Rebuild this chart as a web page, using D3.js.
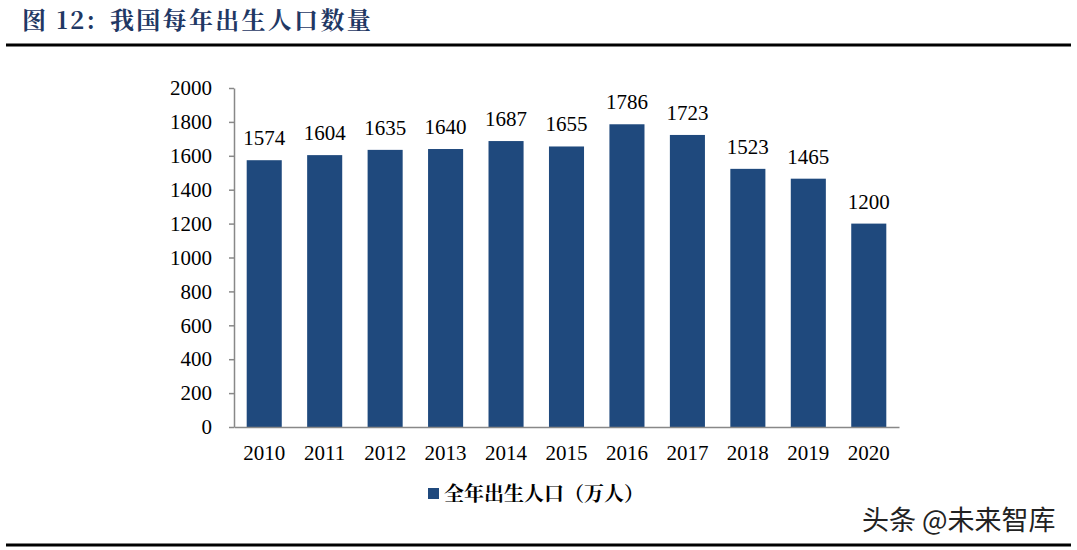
<!DOCTYPE html>
<html><head><meta charset="utf-8">
<script src="https://cdn.jsdelivr.net/npm/d3@7"></script>
<style>body{margin:0;background:#fff;}svg{display:block;}</style>
</head><body>
<script>
const years = ["2010","2011","2012","2013","2014","2015","2016","2017","2018","2019","2020"];
const births = [1574,1604,1635,1640,1687,1655,1786,1723,1523,1465,1200];
const yTicks = [0,200,400,600,800,1000,1200,1400,1600,1800,2000];
const titlePrefix = "图 12:";
const titleMain = "我国每年出生人口数量";
const legendText = "全年出生人口（万人）";
const watermark = "头条 @未来智库";

const W = 1077, H = 550;
const svg = d3.select("body").append("svg").attr("width", W).attr("height", H);
const serif = "'Liberation Serif','Times New Roman',serif";
const cjkSerif = "'Noto Serif CJK SC','Noto Sans CJK SC',serif";

// title
const title = svg.append("text").attr("x", 22).attr("y", 29)
  .attr("font-family", cjkSerif).attr("font-weight", "bold").attr("font-size", 24)
  .attr("letter-spacing", 2.3).attr("fill", "#1f3864");
title.append("tspan").text(titlePrefix);
title.append("tspan").attr("x", 110).text(titleMain);
svg.append("line").attr("x1", 6).attr("x2", 1071).attr("y1", 45).attr("y2", 45)
  .attr("stroke", "#000").attr("stroke-width", 3);
svg.append("line").attr("x1", 6).attr("x2", 1071).attr("y1", 545).attr("y2", 545)
  .attr("stroke", "#000").attr("stroke-width", 3);

const x = d3.scaleBand().domain(years).range([234, 899]).paddingInner(0.42).paddingOuter(0.21);
const y = d3.scaleLinear().domain([0, 2000]).range([427, 88]);

const g = svg.append("g");
g.selectAll("rect").data(births).join("rect")
  .attr("x", (d, i) => x(years[i])).attr("width", x.bandwidth())
  .attr("y", d => y(d)).attr("height", d => y(0) - y(d))
  .attr("fill", "#1f497d");

g.selectAll("text.lbl").data(births).join("text").attr("class", "lbl")
  .attr("x", (d, i) => x(years[i]) + x.bandwidth() / 2).attr("y", d => y(d) - 15)
  .attr("text-anchor", "middle").attr("font-family", serif).attr("font-size", 21)
  .attr("fill", "#000").text(d => d);

const yAxis = svg.append("g").attr("transform", "translate(234,0)")
  .call(d3.axisLeft(y).tickValues(yTicks).tickFormat(d3.format("d")).tickSize(5).tickPadding(17).tickSizeOuter(0));
yAxis.select(".domain").attr("stroke", "#888").attr("stroke-width", 1.5);
yAxis.selectAll(".tick line").attr("stroke", "#888").attr("stroke-width", 1.5);
yAxis.selectAll("text").attr("font-family", serif).attr("font-size", 21).attr("fill", "#000");

const xAxis = svg.append("g").attr("transform", "translate(0,427)")
  .call(d3.axisBottom(x).tickSize(0).tickPadding(18).tickSizeOuter(0));
xAxis.select(".domain").attr("stroke", "#888").attr("stroke-width", 1.5);
xAxis.selectAll("text").attr("font-family", serif).attr("font-size", 21).attr("fill", "#000");

// legend
svg.append("rect").attr("x", 428).attr("y", 488).attr("width", 11).attr("height", 11).attr("fill", "#1f497d");
svg.append("text").attr("x", 444).attr("y", 501)
  .attr("font-family", cjkSerif).attr("font-weight", "bold").attr("font-size", 20)
  .attr("fill", "#000").text(legendText);

svg.append("text").attr("x", 862).attr("y", 530)
  .attr("font-family", "'Noto Sans CJK SC',sans-serif").attr("font-size", 27)
  .attr("fill", "#222").text(watermark);
</script>
</body></html>
